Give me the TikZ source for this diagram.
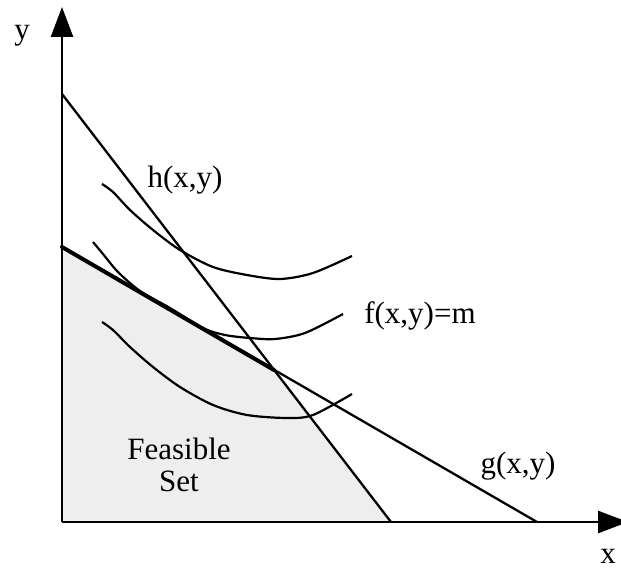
\documentclass[tikz,border=0pt]{standalone}
\usepackage{fontspec}
\setmainfont{Liberation Serif}
\usetikzlibrary{arrows.meta}
\definecolor{feasgray}{HTML}{EEEEEE}
\begin{document}
\begin{tikzpicture}[x=1pt,y=-1pt,
  axis/.style={line width=2.6pt,-{Triangle[length=30pt,width=22pt]}},
  cons/.style={line width=2.3pt},
  tight/.style={line width=4pt,line cap=round},
  level/.style={line width=2.2pt},
  lab/.style={font=\fontsize{31}{33}\selectfont,inner sep=0pt,anchor=base}]
\useasboundingbox (0,0) rectangle (621,572);
\coordinate (O) at (62,522);
\coordinate (ytip) at (62,7);
\coordinate (xtip) at (628,522);
\coordinate (h0) at (62,94);
\coordinate (h1) at (391,522);
\coordinate (g0) at (62,247);
\coordinate (g1) at (537,522);
\coordinate (P) at (274,370);
% feasible set
\fill[feasgray] (O) -- (g0) -- (P) -- (h1) -- cycle;
% axes
\draw[axis] (O) -- (ytip);
\draw[axis] (O) -- (xtip);
% constraints
\draw[cons] (h0) -- (h1);
\draw[cons] (g0) -- (g1);
\draw[tight] (g0) -- (P);
% level curves
\draw[level] plot[smooth] coordinates {(102,184) (113,192) (130,210) (153,230) (180,250) (213,267) (247,275) (280,279) (313,273) (352,256)};
\draw[level] plot[smooth] coordinates {(93,242) (103,254) (118,272) (140,291) (170,308) (203,328) (225,335) (250,338) (275,339) (305,333) (343,314)};
\draw[level] plot[smooth] coordinates {(102,322) (113,330) (130,347) (153,367) (180,387) (213,405) (247,415) (287,418) (313,415) (352,394)};
% labels
\node[lab] (ylab) at (22,40) {y};
\node[lab] (xlab) at (608,563) {x};
\node[lab] (hlab) at (185,188) {h(x,y)};
\node[lab] (flab) at (420,323) {f(x,y)=m};
\node[lab] (glab) at (518,473) {g(x,y)};
\node[lab] (fs1) at (179,459) {Feasible};
\node[lab] (fs2) at (179,491) {Set};
\end{tikzpicture}
\end{document}
